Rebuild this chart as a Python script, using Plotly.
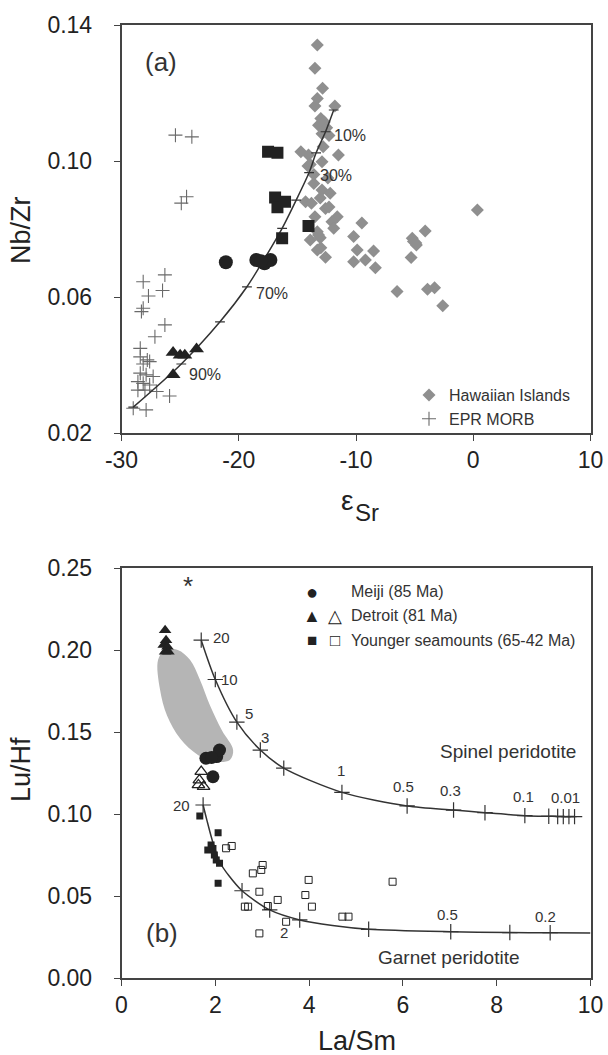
import plotly.graph_objects as go

# ---------------- Panel (a) data: Nb/Zr vs eps_Sr ----------------
haw_x = [-13.3, -13.5, -12.85, -13.3, -13.5, -11.8, -13.0, -12.7, -13.2, -12.5, -12.9, -12.3,
         -14.7, -14.05, -12.8, -11.5, -12.9, -13.6, -12.9, -13.05, -14.3, -13.8, -13.5, -11.6,
         -12.05, -11.9, -9.5, -10.2, -13.9, -13.3, -13.05, -5.2, -4.1, 0.35, -4.9, -13.2, -13.3,
         -12.6, -9.9, -10.2, -9.2, -8.5, -8.35, -6.5, -5.1, -4.85, -5.3, -3.9, -3.3, -2.6,
         -12.2, -13.6, -12.4, -13.9, -12.6, -14.1, -12.3, -13.0]
haw_y = [0.1341, 0.1273, 0.1214, 0.1184, 0.1162, 0.1162, 0.1125, 0.1115, 0.1105, 0.1098, 0.1080, 0.1075,
         0.1027, 0.1018, 0.1042, 0.1018, 0.0998, 0.0934, 0.0915, 0.0891, 0.0880, 0.0876, 0.0836, 0.0836,
         0.0821, 0.0802, 0.0818, 0.0778, 0.0768, 0.0792, 0.0774, 0.0773, 0.0794, 0.0856, 0.0759, 0.0782, 0.0738,
         0.0717, 0.0738, 0.0704, 0.0709, 0.0735, 0.0686, 0.0616, 0.0763, 0.0753, 0.0716, 0.0623, 0.0627, 0.0574,
         0.0905, 0.0960, 0.0950, 0.0990, 0.0860, 0.0985, 0.0865, 0.0745]

epr_x = [-25.4, -24.0, -24.45, -24.9, -26.3, -28.15, -26.5, -27.7, -28.15, -28.3, -26.3, -27.15,
         -28.4, -28.4, -27.6, -28.15, -28.4, -27.9, -27.3, -28.6, -28.15, -27.6, -28.6, -28.0,
         -27.0, -25.9, -27.9, -29.0, -27.8]
epr_y = [0.1076, 0.1071, 0.0895, 0.0876, 0.0665, 0.0645, 0.0619, 0.0603, 0.0567, 0.0557, 0.0518, 0.0483,
         0.0449, 0.0424, 0.0410, 0.0403, 0.0376, 0.0371, 0.0366, 0.0351, 0.0346, 0.0341, 0.0326, 0.0326,
         0.0322, 0.0309, 0.0268, 0.0273, 0.0415]

a_young_x = [-17.5, -16.7, -16.9, -16.7, -16.05, -16.3, -14.05]
a_young_y = [0.1027, 0.1024, 0.0893, 0.0864, 0.0880, 0.0773, 0.0809]

a_meiji_x = [-21.1, -18.5, -17.8, -17.3, -18.1]
a_meiji_y = [0.0702, 0.0709, 0.0699, 0.0709, 0.0705]

a_detroit_x = [-25.6, -25.0, -24.6, -23.6, -25.6]
a_detroit_y = [0.0437, 0.0429, 0.0429, 0.0447, 0.0371]

# mixing curve nodes (100% ... 0%)
mix_x = [-29.0, -24.9, -21.6, -19.3, -17.8, -16.3, -15.1, -14.0, -13.4, -12.6, -11.9]
mix_y = [0.0276, 0.0403, 0.0527, 0.0630, 0.0713, 0.0802, 0.0885, 0.0966, 0.1024, 0.1086, 0.1150]
mix_labels = ["10%", "30%", "70%", "90%"]

a_xticks = [-30, -20, -10, 0, 10]
a_xticktext = ["-30", "-20", "-10", "0", "10"]
a_yticks = [0.02, 0.06, 0.10, 0.14]

# ---------------- Panel (b) data: Lu/Hf vs La/Sm ----------------
b_meiji_x = [1.80, 2.03, 2.09, 1.95, 1.92]
b_meiji_y = [0.1340, 0.1350, 0.1390, 0.1227, 0.1345]

b_det_fill_x = [0.93, 0.95, 0.90, 0.98, 0.93, 1.00]
b_det_fill_y = [0.212, 0.206, 0.203, 0.202, 0.199, 0.199]

b_det_open_x = [1.70, 1.66, 1.75, 1.64]
b_det_open_y = [0.1258, 0.1207, 0.1167, 0.1177]

b_young_fill_x = [1.67, 2.06, 1.84, 1.91, 1.98, 2.09, 2.06, 1.95, 2.02]
b_young_fill_y = [0.0988, 0.0886, 0.0780, 0.0811, 0.0750, 0.0700, 0.0578, 0.0790, 0.0720]

b_young_open_x = [2.23, 2.35, 2.80, 2.98, 3.01, 2.94, 2.63, 2.70, 3.12, 3.33, 3.51, 2.94,
                  3.99, 3.92, 4.06, 4.71, 4.84, 5.78]
b_young_open_y = [0.0791, 0.0805, 0.0638, 0.0659, 0.0689, 0.0526, 0.0435, 0.0435, 0.0439, 0.0476, 0.0343, 0.0272,
                  0.0598, 0.0506, 0.0435, 0.0374, 0.0374, 0.0587]

# shaded field outline
field_x = [0.78, 0.82, 0.97, 1.25, 1.63, 1.99, 2.31, 2.38, 2.14, 1.89, 1.67, 1.46, 1.20, 0.93, 0.78]
field_y = [0.194, 0.176, 0.160, 0.146, 0.136, 0.132, 0.133, 0.139, 0.151, 0.166, 0.182, 0.194, 0.200, 0.200, 0.194]

# melting curves (tick nodes)
spinel_x = [1.70, 2.00, 2.46, 2.96, 3.46, 4.70, 6.09, 7.08, 7.75, 8.60, 9.11, 9.30, 9.42, 9.54, 9.66]
spinel_y = [0.206, 0.182, 0.156, 0.139, 0.128, 0.1132, 0.1049, 0.1024, 0.1008, 0.0990, 0.0986, 0.0985, 0.0984, 0.0984, 0.0984]
spinel_labels = ["20", "10", "5", "3", "1", "0.5", "0.3", "0.1", "0.01"]

garnet_x = [1.74, 1.82, 1.93, 2.09, 2.30, 2.57, 3.16, 3.80, 4.50, 5.27, 7.02, 8.28, 9.14, 10.0]
garnet_y = [0.1055, 0.0963, 0.0845, 0.0709, 0.0620, 0.0532, 0.0415, 0.0354, 0.0320, 0.0297, 0.0282, 0.0277, 0.0276, 0.0274]
garnet_tick_idx = [0, 5, 6, 7, 9, 10, 11, 12]
garnet_labels = ["20", "2", "0.5", "0.2"]

b_xticks = [0, 2, 4, 6, 8, 10]
b_yticks = [0, 0.05, 0.10, 0.15, 0.20, 0.25]

# ---------------- figure ----------------
W, H = 608, 1055
xdom = [121.5 / W, 590.5 / W]
ya_dom = [1 - 433 / H, 1 - 25 / H]
yb_dom = [1 - 978 / H, 1 - 568 / H]

BLACK = "#222222"
GRAY = "#8f8f8f"
CROSS = "#6a6a6a"
LINE = "#333333"
FONT = "Liberation Sans, Arial, sans-serif"

fig = go.Figure()

# panel (a)
fig.add_trace(go.Scatter(x=haw_x, y=haw_y, mode="markers", name="Hawaiian Islands",
                         marker=dict(symbol="diamond", size=10, color=GRAY, line=dict(width=0)),
                         xaxis="x", yaxis="y"))
fig.add_trace(go.Scatter(x=epr_x, y=epr_y, mode="markers", name="EPR MORB",
                         marker=dict(symbol="cross-thin", size=10, color=CROSS, line=dict(width=1.1, color=CROSS)),
                         xaxis="x", yaxis="y"))
fig.add_trace(go.Scatter(x=mix_x, y=mix_y, mode="lines+markers", showlegend=False,
                         line=dict(color=LINE, width=1.5, shape="spline", smoothing=0.8),
                         marker=dict(symbol="line-ew", size=7, color=LINE, line=dict(width=1.2, color=LINE)),
                         xaxis="x", yaxis="y"))
fig.add_trace(go.Scatter(x=a_young_x, y=a_young_y, mode="markers", showlegend=False,
                         marker=dict(symbol="square", size=12, color=BLACK), xaxis="x", yaxis="y"))
fig.add_trace(go.Scatter(x=a_meiji_x, y=a_meiji_y, mode="markers", showlegend=False,
                         marker=dict(symbol="circle", size=14, color=BLACK), xaxis="x", yaxis="y"))
fig.add_trace(go.Scatter(x=a_detroit_x, y=a_detroit_y, mode="markers", showlegend=False,
                         marker=dict(symbol="triangle-up", size=13, color=BLACK), xaxis="x", yaxis="y"))

# panel (b)
fig.add_trace(go.Scatter(x=field_x, y=field_y, mode="lines", fill="toself", showlegend=False,
                         fillcolor="#b5b5b5", line=dict(width=0, shape="spline", smoothing=1.0, color="#b5b5b5"),
                         hoverinfo="skip", xaxis="x2", yaxis="y2"))
fig.add_trace(go.Scatter(x=spinel_x, y=spinel_y, mode="lines+markers", showlegend=False,
                         line=dict(color=LINE, width=1.5, shape="spline", smoothing=0.8),
                         marker=dict(symbol="cross-thin", size=11, color=LINE, line=dict(width=1.2, color=LINE)),
                         xaxis="x2", yaxis="y2"))
fig.add_trace(go.Scatter(x=garnet_x, y=garnet_y, mode="lines", showlegend=False,
                         line=dict(color=LINE, width=1.5, shape="spline", smoothing=0.8),
                         xaxis="x2", yaxis="y2"))
fig.add_trace(go.Scatter(x=[garnet_x[i] for i in garnet_tick_idx], y=[garnet_y[i] for i in garnet_tick_idx],
                         mode="markers", showlegend=False,
                         marker=dict(symbol="cross-thin", size=11, color=LINE, line=dict(width=1.2, color=LINE)),
                         xaxis="x2", yaxis="y2"))
fig.add_trace(go.Scatter(x=b_det_fill_x, y=b_det_fill_y, mode="markers", showlegend=False,
                         marker=dict(symbol="triangle-up", size=11, color=BLACK), xaxis="x2", yaxis="y2"))
fig.add_trace(go.Scatter(x=b_det_open_x, y=b_det_open_y, mode="markers", showlegend=False,
                         marker=dict(symbol="triangle-up-open", size=11, color=BLACK, line=dict(width=1.3)),
                         xaxis="x2", yaxis="y2"))
fig.add_trace(go.Scatter(x=b_meiji_x, y=b_meiji_y, mode="markers", showlegend=False,
                         marker=dict(symbol="circle", size=13, color=BLACK), xaxis="x2", yaxis="y2"))
fig.add_trace(go.Scatter(x=b_young_fill_x, y=b_young_fill_y, mode="markers", showlegend=False,
                         marker=dict(symbol="square", size=7, color=BLACK), xaxis="x2", yaxis="y2"))
fig.add_trace(go.Scatter(x=b_young_open_x, y=b_young_open_y, mode="markers", showlegend=False,
                         marker=dict(symbol="square-open", size=7, color=BLACK, line=dict(width=1)),
                         xaxis="x2", yaxis="y2"))

ann = []
def txt(x, y, t, size=13, xref="x", yref="y", xanchor="center", yanchor="middle", color="#333333", angle=0):
    ann.append(dict(x=x, y=y, text=t, xref=xref, yref=yref, showarrow=False, xanchor=xanchor,
                    yanchor=yanchor, textangle=angle, font=dict(size=size, color=color, family=FONT)))

# (a) texts
txt(-26.6, 0.1292, "(a)", size=26)
for lab, (lx, ly) in zip(mix_labels, [(-10.5, 0.1076), (-11.7, 0.0957), (-17.2, 0.0609), (-22.9, 0.0371)]):
    txt(lx, ly, lab, size=16)
# (b) texts
txt(0.86, 0.0273, "(b)", size=26, xref="x2", yref="y2")
txt(1.42, 0.239, "*", size=26, xref="x2", yref="y2")
for lab, (lx, ly) in zip(spinel_labels, [(2.13, 0.2077), (2.31, 0.182), (2.72, 0.1614), (3.07, 0.1468),
                                         (4.68, 0.1264), (6.01, 0.117), (7.02, 0.1142), (8.58, 0.1105), (9.47, 0.110)]):
    txt(lx, ly, lab, size=15, xref="x2", yref="y2")
for lab, (lx, ly) in zip(garnet_labels, [(1.27, 0.1049), (3.47, 0.0275), (6.95, 0.039), (9.05, 0.0374)]):
    txt(lx, ly, lab, size=15, xref="x2", yref="y2")
txt(8.25, 0.138, "Spinel peridotite", size=19, xref="x2", yref="y2")
txt(6.99, 0.0124, "Garnet peridotite", size=19, xref="x2", yref="y2")

# (b) legend as text glyphs
txt(311.7 / W, 1 - 591.7 / H, "●", size=20, xref="paper", yref="paper", color=BLACK)
txt(311.7 / W, 1 - 615.7 / H, "▲", size=18, xref="paper", yref="paper", color=BLACK)
txt(335 / W, 1 - 615.7 / H, "△", size=18, xref="paper", yref="paper", color=BLACK)
txt(311.7 / W, 1 - 641 / H, "■", size=17, xref="paper", yref="paper", color=BLACK)
txt(335 / W, 1 - 641 / H, "□", size=17, xref="paper", yref="paper", color=BLACK)
txt(349 / W, 1 - 591.7 / H, "Meiji (85 Ma)", size=16, xref="paper", yref="paper", xanchor="left")
txt(349 / W, 1 - 615.7 / H, "Detroit (81 Ma)", size=16, xref="paper", yref="paper", xanchor="left")
txt(349 / W, 1 - 641 / H, "Younger seamounts (65-42 Ma)", size=16, xref="paper", yref="paper", xanchor="left")

# axis titles
txt(347 / W, 1 - 500 / H, "ε", size=28, xref="paper", yref="paper", color="#222222")
txt(353 / W, 1 - 512 / H, "Sr", size=24, xref="paper", yref="paper", xanchor="left", color="#222222")
txt(21 / W, 1 - 230 / H, "Nb/Zr", size=27, xref="paper", yref="paper", angle=-90, color="#222222")
txt(357 / W, 1 - 1041 / H, "La/Sm", size=27, xref="paper", yref="paper", color="#222222")
txt(21 / W, 1 - 770 / H, "Lu/Hf", size=27, xref="paper", yref="paper", angle=-90, color="#222222")

axis_common = dict(showline=True, linecolor="#444444", linewidth=1.5, mirror=True, ticks="outside",
                   ticklen=6, tickwidth=1.2, tickcolor="#444444", showgrid=False, zeroline=False,
                   tickfont=dict(size=23, family=FONT, color="#222222"), automargin=False)

fig.update_layout(
    width=W, height=H, margin=dict(l=0, r=0, t=0, b=0),
    paper_bgcolor="white", plot_bgcolor="white", template="none",
    font=dict(family=FONT, color="#333333"),
    annotations=ann,
    showlegend=True,
    legend=dict(x=409 / W, y=1 - 378 / H, xanchor="left", yanchor="top", bgcolor="rgba(0,0,0,0)",
                font=dict(size=16, family=FONT, color="#333333"), itemsizing="trace"),
    xaxis=dict(domain=xdom, range=[-30, 10], tickvals=a_xticks, ticktext=a_xticktext, anchor="y",
               ticklabelstandoff=0, **axis_common),
    yaxis=dict(domain=ya_dom, range=[0.02, 0.14], tickvals=a_yticks, tickformat=".2f",
               anchor="x", ticklabelstandoff=17, **axis_common),
    xaxis2=dict(domain=xdom, range=[0, 10], tickvals=b_xticks, anchor="y2", ticklabelstandoff=0, **axis_common),
    yaxis2=dict(domain=yb_dom, range=[0, 0.25], tickvals=b_yticks, tickformat=".2f",
                anchor="x2", ticklabelstandoff=17, **axis_common),
)

fig.write_html("out.html")
